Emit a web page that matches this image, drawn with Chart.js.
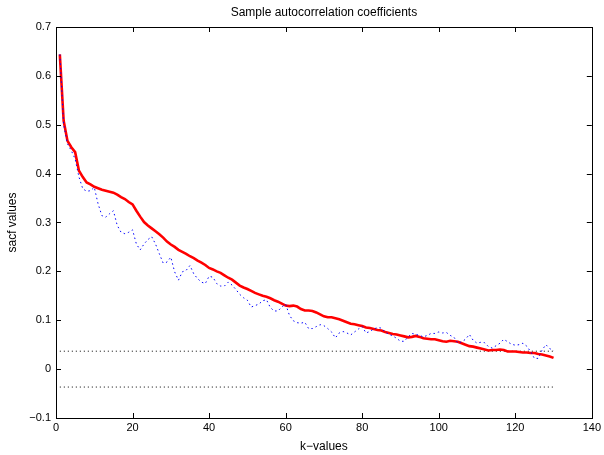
<!DOCTYPE html>
<html>
<head>
<meta charset="utf-8">
<title>Sample autocorrelation coefficients</title>
<script src="https://cdn.jsdelivr.net/npm/chart.js@4.4.1/dist/chart.umd.min.js"></script>
<style>
    html, body { margin: 0; padding: 0; background: #fff; }
    #wrap { width: 604px; height: 455px; }
</style>
</head>
<body>
<div id="wrap"><canvas id="sacf-chart"></canvas></div>
<script>
// Sample autocorrelation coefficients

// lag k = 1..130
const lags = Array.from({ length: 130 }, (_, i) => i + 1);

// smoothed sacf (red solid line)
const sacfSmooth = [
    0.644, 0.508, 0.467, 0.454, 0.444, 0.406, 0.393, 0.382, 0.378, 0.373,
    0.370, 0.367, 0.365, 0.363, 0.361, 0.357, 0.352, 0.348, 0.342, 0.337,
    0.324, 0.312, 0.301, 0.294, 0.288, 0.282, 0.276, 0.269, 0.261, 0.255,
    0.250, 0.244, 0.240, 0.236, 0.231, 0.227, 0.222, 0.218, 0.213, 0.207,
    0.204, 0.200, 0.197, 0.192, 0.187, 0.183, 0.177, 0.171, 0.167, 0.164,
    0.160, 0.156, 0.153, 0.150, 0.148, 0.145, 0.141, 0.138, 0.134, 0.130,
    0.129, 0.130, 0.128, 0.123, 0.120, 0.120, 0.119, 0.116, 0.112, 0.108,
    0.106, 0.106, 0.104, 0.102, 0.099, 0.096, 0.093, 0.092, 0.090, 0.088,
    0.085, 0.084, 0.082, 0.080, 0.079, 0.076, 0.074, 0.072, 0.071, 0.069,
    0.067, 0.065, 0.066, 0.068, 0.066, 0.063, 0.062, 0.061, 0.061, 0.059,
    0.057, 0.056, 0.058, 0.057, 0.056, 0.053, 0.050, 0.047, 0.046, 0.044,
    0.042, 0.040, 0.038, 0.039, 0.039, 0.040, 0.039, 0.036, 0.036, 0.036,
    0.035, 0.034, 0.034, 0.033, 0.033, 0.031, 0.030, 0.028, 0.026, 0.023
];

// raw sacf (blue dotted line)
const sacfRaw = [
    0.644, 0.500, 0.461, 0.447, 0.430, 0.393, 0.369, 0.364, 0.365, 0.372,
    0.338, 0.314, 0.311, 0.318, 0.324, 0.294, 0.280, 0.277, 0.280, 0.285,
    0.256, 0.244, 0.256, 0.265, 0.271, 0.256, 0.236, 0.217, 0.219, 0.229,
    0.199, 0.182, 0.199, 0.202, 0.212, 0.195, 0.185, 0.178, 0.175, 0.190,
    0.188, 0.175, 0.170, 0.170, 0.178, 0.172, 0.163, 0.153, 0.146, 0.141,
    0.127, 0.130, 0.133, 0.140, 0.142, 0.126, 0.119, 0.119, 0.127, 0.133,
    0.110, 0.099, 0.095, 0.094, 0.096, 0.083, 0.083, 0.087, 0.091, 0.089,
    0.083, 0.076, 0.064, 0.074, 0.077, 0.074, 0.070, 0.076, 0.082, 0.087,
    0.074, 0.077, 0.082, 0.085, 0.084, 0.076, 0.071, 0.068, 0.063, 0.057,
    0.057, 0.066, 0.073, 0.071, 0.069, 0.066, 0.069, 0.073, 0.073, 0.076,
    0.074, 0.075, 0.069, 0.065, 0.053, 0.056, 0.061, 0.071, 0.059, 0.053,
    0.055, 0.054, 0.046, 0.043, 0.048, 0.053, 0.061, 0.056, 0.051, 0.049,
    0.050, 0.053, 0.047, 0.036, 0.022, 0.022, 0.039, 0.050, 0.042, 0.038
];

// confidence bounds (black dotted lines)
const confBound = 0.0367;
const boundLags = [1, 130];

// axes
const xTicks = [0, 20, 40, 60, 80, 100, 120, 140];
const yTicks = [-0.1, 0, 0.1, 0.2, 0.3, 0.4, 0.5, 0.6, 0.7];

const FONT = 'Liberation Sans, Arial, Helvetica, sans-serif';

// Turn two arrays into {x, y} points
function toPoints(xs, ys) {
    return xs.map((x, i) => ({ x: x, y: ys[i] }));
}

function formatY(v) {
    if (Math.abs(v) < 1e-9) return '0';
    return v.toFixed(1).replace('-', '\u2212');
}

// Box around the axes with inward tick marks (MATLAB look)
const boxPlugin = {
    id: 'matlabBox',
    afterDatasetsDraw(chart) {
        const { ctx, chartArea: a, scales } = chart;
        const len = 5;
        ctx.save();
        ctx.strokeStyle = '#000';
        ctx.lineWidth = 1;
        ctx.beginPath();
        xTicks.forEach(v => {
            const px = Math.round(scales.x.getPixelForValue(v)) + 0.5;
            ctx.moveTo(px, a.bottom); ctx.lineTo(px, a.bottom - len);
            ctx.moveTo(px, a.top); ctx.lineTo(px, a.top + len);
        });
        yTicks.forEach(v => {
            const py = Math.round(scales.y.getPixelForValue(v)) + 0.5;
            ctx.moveTo(a.left, py); ctx.lineTo(a.left + len, py);
            ctx.moveTo(a.right, py); ctx.lineTo(a.right - len, py);
        });
        ctx.stroke();
        ctx.strokeRect(Math.round(a.left) + 0.5, Math.round(a.top) + 0.5,
            Math.round(a.right - a.left), Math.round(a.bottom - a.top));
        ctx.restore();
    }
};

function renderChart() {
    const ctx = document.getElementById('sacf-chart');

    Chart.defaults.color = '#000';
    Chart.defaults.font.family = FONT;
    Chart.defaults.font.size = 11;

    new Chart(ctx, {
        type: 'line',
        data: {
            datasets: [
                {
                    label: 'raw',
                    data: toPoints(lags, sacfRaw),
                    borderColor: '#0000ff',
                    borderWidth: 1,
                    borderDash: [1.5, 3],
                    pointRadius: 0,
                    tension: 0
                },
                {
                    label: 'smoothed',
                    data: toPoints(lags, sacfSmooth),
                    borderColor: '#ff0000',
                    borderWidth: 2.6,
                    pointRadius: 0,
                    tension: 0
                },
                {
                    label: 'upper',
                    data: toPoints(boundLags, [confBound, confBound]),
                    borderColor: '#000',
                    borderWidth: 1,
                    borderDash: [1, 3],
                    pointRadius: 0
                },
                {
                    label: 'lower',
                    data: toPoints(boundLags, [-confBound, -confBound]),
                    borderColor: '#000',
                    borderWidth: 1,
                    borderDash: [1, 3],
                    pointRadius: 0
                }
            ]
        },
        options: {
            responsive: true,
            maintainAspectRatio: false,
            animation: false,
            layout: { padding: { left: 0, right: 12, top: 0, bottom: 0 } },
            plugins: {
                legend: { display: false },
                tooltip: { enabled: false }
            },
            scales: {
                x: {
                    type: 'linear',
                    position: 'bottom',
                    min: 0,
                    max: 140,
                    afterBuildTicks: s => { s.ticks = xTicks.map(v => ({ value: v })); },
                    afterFit: s => { s.height = 37; },
                    grid: { display: false, drawTicks: false },
                    border: { display: false },
                    ticks: { padding: 3, maxRotation: 0 },
                    title: {
                        display: true,
                        text: 'k\u2212values',
                        font: { size: 12 },
                        padding: { top: 0, bottom: 1 }
                    }
                },
                x2: {
                    type: 'linear',
                    position: 'top',
                    min: 0,
                    max: 140,
                    afterFit: s => { s.height = 27; },
                    grid: { display: false, drawTicks: false },
                    border: { display: false },
                    ticks: { display: false },
                    title: {
                        display: true,
                        text: 'Sample autocorrelation coefficients',
                        font: { size: 12 },
                        padding: { top: 5, bottom: 0 }
                    }
                },
                y: {
                    min: -0.1,
                    max: 0.7,
                    afterBuildTicks: s => { s.ticks = yTicks.map(v => ({ value: v })); },
                    afterFit: s => { s.width = 56; },
                    grid: { display: false, drawTicks: false },
                    border: { display: false },
                    ticks: { padding: 5, callback: v => formatY(v) },
                    title: {
                        display: true,
                        text: 'sacf values',
                        font: { size: 12 },
                        padding: { top: 5, bottom: 0 }
                    }
                }
            }
        },
        plugins: [boxPlugin]
    });
}

document.addEventListener('DOMContentLoaded', function () {
    renderChart();
});
</script>
</body>
</html>
